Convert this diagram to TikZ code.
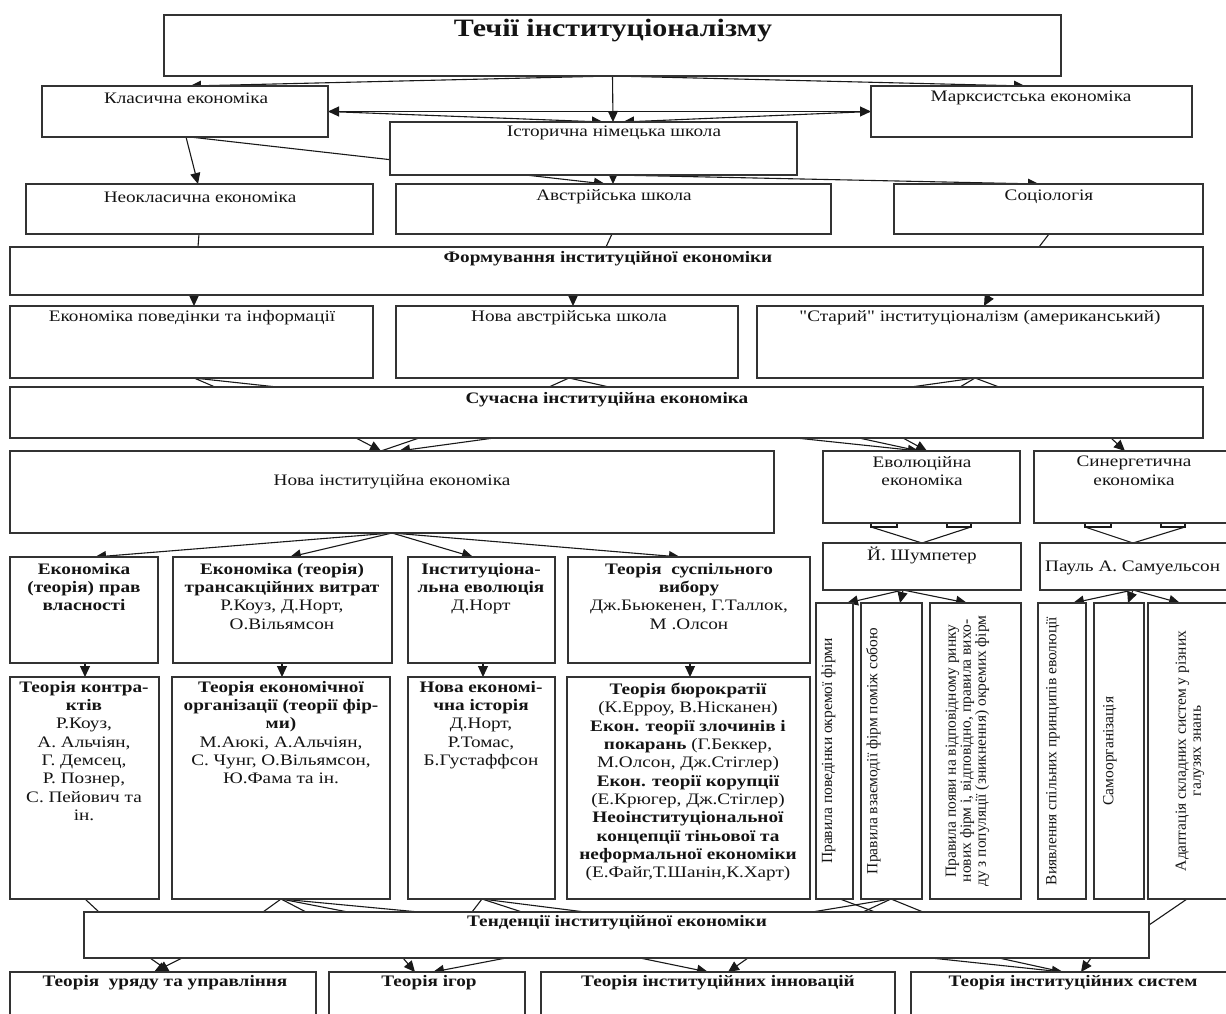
\documentclass[tikz,border=0pt]{standalone}
\usepackage{fontspec}
\setmainfont{Liberation Serif}[FakeStretch=1.2, Ligatures=TeXOff]
\newfontfamily\vfont{Liberation Serif}
\usetikzlibrary{arrows.meta,calc,backgrounds}
\newcommand\mkbox[5]{\node[box, minimum width={#4-#2}, minimum height={#5-#3}, anchor=north west] (#1) at (#2,#3) {};}
\begin{document}
\begin{tikzpicture}[x=1pt,y=-1pt,
  box/.style={rectangle, draw=black!80, line width=1.5pt, fill=white, inner sep=0pt, outer sep=0pt},
  txt/.style={inner sep=0pt, align=center, text=black!92, font=\fontsize{16}{18.3}\selectfont},
  btxt/.style={txt, font=\fontsize{16}{18.3}\selectfont\bfseries},
  vtxt/.style={inner sep=0pt, align=center, rotate=90, text=black!92, font=\vfont\fontsize{15.5}{15}\selectfont},
  con/.style={line width=1.1pt, draw=black!90},
  arr/.style={con, -{Triangle[length=11pt,width=10pt]}},
  arrb/.style={con, {Triangle[length=11pt,width=10pt]}-{Triangle[length=11pt,width=10pt]}}]
\useasboundingbox (0,0) rectangle (1226,1014);
\clip (0,0) rectangle (1226,1014);

% boxes
\mkbox{T}{164}{15}{1061}{76}
\mkbox{klas}{42}{86}{328}{137}
\mkbox{marx}{871}{86}{1192}{137}
\mkbox{hist}{390}{122}{797}{175}
\mkbox{neo}{26}{184}{373}{234}
\mkbox{aus}{396}{184}{831}{234}
\mkbox{soc}{894}{184}{1203}{234}
\mkbox{form}{10}{247}{1203}{295}
\mkbox{beh}{10}{306}{373}{378}
\mkbox{naus}{396}{306}{738}{378}
\mkbox{old}{757}{306}{1203}{378}
\mkbox{suc}{10}{387}{1203}{438}
\mkbox{nie}{10}{451}{774}{533}
\mkbox{evo}{823}{451}{1020}{523}
\mkbox{syn}{1034}{451}{1240}{523}
\mkbox{sch}{823}{543}{1021}{590}
\mkbox{sam}{1040}{543}{1240}{590}
\mkbox{b1}{10}{557}{158}{663}
\mkbox{b2}{173}{557}{392}{663}
\mkbox{b3}{408}{557}{555}{663}
\mkbox{b4}{568}{557}{810}{663}
\mkbox{c1}{10}{677}{159}{899}
\mkbox{c2}{172}{677}{390}{899}
\mkbox{c3}{408}{677}{555}{899}
\mkbox{c4}{567}{677}{810}{899}
\mkbox{v1}{816}{603}{853}{899}
\mkbox{v2}{861}{603}{922}{899}
\mkbox{v3}{930}{603}{1021}{899}
\mkbox{v4}{1038}{603}{1086}{899}
\mkbox{v5}{1094}{603}{1144}{899}
\mkbox{v6}{1148}{603}{1240}{899}
\mkbox{ten}{84}{912}{1149}{958}
\mkbox{d1}{10}{972}{316}{1030}
\mkbox{d2}{329}{972}{525}{1030}
\mkbox{d3}{541}{972}{895}{1030}
\mkbox{d4}{911}{972}{1240}{1030}

% texts
\node[txt, font=\fontsize{25}{28}\selectfont\bfseries] (titleT) at (613,31) {Течії інституціоналізму};
\node[txt] (klasT) at (186,98) {Класична економіка};
\node[txt] (marxT) at (1031,98) {Марксистська економіка};
\node[txt] (histT) at (614,133) {Історична німецька школа};
\node[txt] (neoT) at (200,197) {Неокласична економіка};
\node[txt] (ausT) at (614,197) {Австрійська школа};
\node[txt] (socT) at (1049,197) {Соціологія};
\node[btxt] (formT) at (608,259) {Формування інституційної економіки};
\node[txt] (behT) at (192,318) {Економіка поведінки та інформації};
\node[txt] (nausT) at (569,318) {Нова австрійська школа};
\node[txt] (oldT) at (980,318) {"Старий" інституціоналізм (американський)};
\node[btxt] (sucT) at (607,400) {Сучасна інституційна економіка};
\node[txt] (nieT) at (392,482) {Нова інституційна економіка};
\node[txt, anchor=north] (evoT) at (922,456) {Еволюційна\\економіка};
\node[txt, anchor=north] (synT) at (1134,456) {Синергетична\\економіка};
\node[txt] (schT) at (922,555) {Й. Шумпетер};
\node[txt, anchor=west] (samT) at (1045,568) {Пауль А. Самуельсон};

\node[txt, anchor=north] (b1T) at (84,563) {\textbf{Економіка}\\\textbf{(теорія) прав}\\\textbf{власності}};
\node[txt, anchor=north] (b2T) at (282,563) {\textbf{Економіка (теорія)}\\\textbf{трансакційних витрат}\\Р.Коуз, Д.Норт,\\О.Вільямсон};
\node[txt, anchor=north] (b3T) at (481,563) {\textbf{Інституціона-}\\\textbf{льна еволюція}\\Д.Норт};
\node[txt, anchor=north] (b4T) at (689,563) {\textbf{Теорія\ \ суспільного}\\\textbf{вибору}\\Дж.Бьюкенен, Г.Таллок,\\М .Олсон};

\node[txt, anchor=north] (c1T) at (84,681) {\textbf{Теорія контра-}\\\textbf{ктів}\\Р.Коуз,\\А. Альчіян,\\Г. Демсец,\\Р. Познер,\\С. Пейович та\\ін.};
\node[txt, anchor=north] (c2T) at (281,681) {\textbf{Теорія економічної}\\\textbf{організації (теорії фір-}\\\textbf{ми)}\\М.Аюкі, А.Альчіян,\\С. Чунг, О.Вільямсон,\\Ю.Фама та ін.};
\node[txt, anchor=north] (c3T) at (481,681) {\textbf{Нова економі-}\\\textbf{чна історія}\\Д.Норт,\\Р.Томас,\\Б.Густаффсон};
\node[txt, anchor=north] (c4T) at (688,683) {\textbf{Теорія бюрократії}\\(К.Ерроу, В.Нісканен)\\\textbf{Екон. теорії злочинів і}\\\textbf{покарань} (Г.Беккер,\\М.Олсон, Дж.Стіглер)\\\textbf{Екон. теорії корупції}\\(Е.Крюгер, Дж.Стіглер)\\\textbf{Неоінституціональної}\\\textbf{концепції тіньової та}\\\textbf{неформальної економіки}\\(Е.Файг,Т.Шанін,К.Харт)};

\node[vtxt] (v1T) at ($(v1.center)+(-6,0)$) {Правила поведінки окремої фірми};
\node[vtxt] (v2T) at ($(v2.center)+(-18,0)$) {Правила взаємодії фірм поміж собою};
\node[vtxt] (v3T) at ($(v3.center)+(-8,0)$) {Правила появи на відповідному ринку\\нових фірм і, відповідно, правила вихо-\\ду з популяції (зникнення) окремих фірм};
\node[vtxt] (v4T) at ($(v4.center)+(-9,0)$) {Виявлення спільних принципів еволюції};
\node[vtxt] (v5T) at ($(v5.center)+(-9,0)$) {Самоорганізація};
\node[vtxt] (v6T) at ($(v6.center)+(-4,0)$) {Адаптація складних систем у різних\\галузях знань};

\node[btxt] (tenT) at (617,923) {Тенденції інституційної економіки};
\node[btxt] (d1T) at (165,983) {Теорія\ \ уряду та управління};
\node[btxt] (d2T) at (429,983) {Теорія ігор};
\node[btxt] (d3T) at (718,983) {Теорія інституційних інновацій};
\node[btxt] (d4T) at (1073,983) {Теорія інституційних систем};

\begin{pgfonlayer}{background}
% top
\draw[arr] (T.south) -- ($(klas.north west)+(148,0)$);
\draw[arr] (T.south) -- ($(marx.north west)+(154,0)$);
\draw[arr] (T.south) -- ($(hist.north west)+(223,0)$);
\draw[arrb] (klas.east) -- (marx.west);
\draw[arr] (klas.east) -- ($(hist.north west)+(213,0)$);
\draw[arr] (marx.west) -- ($(hist.north west)+(233,0)$);
% row 2
\draw[arr] ($(klas.south west)+(144,0)$) -- ($(neo.north west)+(172,0)$);
\draw[arr] ($(klas.south west)+(148,0)$) -- ($(aus.north west)+(209,0)$);
\draw[arr] ($(hist.south west)+(223,0)$) -- ($(aus.north west)+(217,0)$);
\draw[arr] ($(hist.south west)+(223,0)$) -- ($(soc.north west)+(145,0)$);
% to formation
\draw[con] ($(neo.south west)+(173,0)$) -- ($(form.north west)+(188,0)$);
\draw[con] ($(aus.south west)+(216,0)$) -- ($(form.north west)+(596,0)$);
\draw[con] ($(soc.south west)+(155,0)$) -- ($(form.north west)+(1029,0)$);
% formation to row 3
\draw[arr] ($(form.south west)+(184,0)$) -- ($(beh.north west)+(184,0)$);
\draw[arr] ($(form.south west)+(563,0)$) -- ($(naus.north west)+(177,0)$);
\draw[arr] ($(form.south west)+(980,0)$) -- ($(old.north west)+(227,0)$);
% row 3 to modern
\draw[con] ($(suc.north west)+(205,0)$) -- ($(beh.south west)+(184,0)$) -- ($(suc.north west)+(267,0)$);
\draw[con] ($(suc.north west)+(539,0)$) -- ($(naus.south west)+(173,0)$) -- ($(suc.north west)+(599,0)$);
\draw[con] ($(suc.north west)+(901,0)$) -- ($(old.south west)+(218,0)$) -- ($(suc.north west)+(989,0)$);
\draw[con] ($(old.south west)+(218,0)$) -- ($(suc.north west)+(950,0)$);
% modern to row 4
\draw[arr] ($(suc.south west)+(346,0)$) -- ($(nie.north west)+(371,0)$);
\draw[con] ($(suc.south west)+(409,0)$) -- ($(nie.north west)+(371,0)$);
\draw[arr] ($(suc.south west)+(484,0)$) -- ($(nie.north west)+(389,0)$);
\draw[arr] ($(suc.south west)+(786,0)$) -- ($(evo.north west)+(96,0)$);
\draw[con] ($(suc.south west)+(849,0)$) -- ($(evo.north west)+(96,0)$);
\draw[arr] ($(suc.south west)+(893,0)$) -- ($(evo.north west)+(104,0)$);
\draw[arr] ($(suc.south west)+(1101,0)$) -- ($(syn.north west)+(91,0)$);
% evolution -> Schumpeter
\draw[con] ($(evo.south west)+(48,0)$) -- ++(0,4) -- ++(26,0) -- ++(0,-4);
\draw[con] ($(evo.south west)+(124,0)$) -- ++(0,4) -- ++(24,0) -- ++(0,-4);
\draw[con] ($(evo.south west)+(48,4)$) -- (sch.north);
\draw[con] ($(evo.south west)+(148,4)$) -- (sch.north);
% synergetic -> Samuelson
\draw[con] ($(syn.south west)+(51,0)$) -- ++(0,4) -- ++(26,0) -- ++(0,-4);
\draw[con] ($(syn.south west)+(127,0)$) -- ++(0,4) -- ++(24,0) -- ++(0,-4);
\draw[con] ($(syn.south west)+(51,4)$) -- ($(sam.north west)+(93,0)$);
\draw[con] ($(syn.south west)+(151,4)$) -- ($(sam.north west)+(93,0)$);
% Schumpeter -> v1..v3
\draw[arr] ($(sch.south west)+(80,0)$) -- ($(v1.north west)+(31,0)$);
\draw[arr] ($(sch.south west)+(80,0)$) -- ($(v2.north west)+(39,0)$);
\draw[arr] ($(sch.south west)+(80,0)$) -- ($(v3.north west)+(37,0)$);
% Samuelson -> v4..v6
\draw[arr] ($(sam.south west)+(93,0)$) -- ($(v4.north west)+(35,0)$);
\draw[arr] ($(sam.south west)+(93,0)$) -- ($(v5.north west)+(34,0)$);
\draw[arr] ($(sam.south west)+(93,0)$) -- ($(v6.north west)+(32,0)$);
% new institutional -> b
\draw[arr] (nie.south) -- ($(b1.north west)+(85,0)$);
\draw[arr] (nie.south) -- ($(b2.north west)+(117,0)$);
\draw[arr] (nie.south) -- ($(b3.north west)+(65,0)$);
\draw[arr] (nie.south) -- ($(b4.north west)+(112,0)$);
% b -> c
\draw[arr] ($(b1.south west)+(75,0)$) -- ($(c1.north west)+(75,0)$);
\draw[arr] ($(b2.south west)+(109,0)$) -- ($(c2.north west)+(110,0)$);
\draw[arr] ($(b3.south west)+(75,0)$) -- ($(c3.north west)+(75,0)$);
\draw[arr] ($(b4.south west)+(122,0)$) -- ($(c4.north west)+(123,0)$);
% c, v -> tendencies
\draw[con] ($(c1.south west)+(75,0)$) -- ($(ten.north west)+(15,0)$);
\foreach \dd in {179,222,264,335} \draw[con] ($(c2.south west)+(109,0)$) -- ($(ten.north west)+(\dd,0)$);
\foreach \dd in {388,438,501} \draw[con] ($(c3.south west)+(74,0)$) -- ($(ten.north west)+(\dd,0)$);
\foreach \dd in {728,779,839} \draw[con] ($(v2.south west)+(30,0)$) -- ($(ten.north west)+(\dd,0)$);
\draw[con] ($(v1.south west)+(24,0)$) -- ($(ten.north west)+(791,0)$);
\draw[con] ($(v6.south west)+(39,0)$) -- ($(ten.north east)+(0,13)$);
% tendencies -> d
\draw[arr] ($(ten.south west)+(98,0)$) -- ($(d1.north west)+(144,0)$);
\draw[arr] ($(ten.south west)+(66,0)$) -- ($(d1.north west)+(160,0)$);
\draw[arr] ($(ten.south west)+(319,0)$) -- ($(d2.north west)+(86,0)$);
\draw[arr] ($(ten.south west)+(422,0)$) -- ($(d2.north west)+(104,0)$);
\draw[arr] ($(ten.south west)+(556,0)$) -- ($(d3.north west)+(167,0)$);
\draw[arr] ($(ten.south west)+(664,0)$) -- ($(d3.north west)+(187,0)$);
\draw[arr] ($(ten.south west)+(847,0)$) -- ($(d4.north west)+(152,0)$);
\draw[con] ($(ten.south west)+(915,0)$) -- ($(d4.north west)+(152,0)$);
\draw[arr] ($(ten.south west)+(1007,0)$) -- ($(d4.north west)+(170,0)$);
\end{pgfonlayer}
\end{tikzpicture}
\end{document}
